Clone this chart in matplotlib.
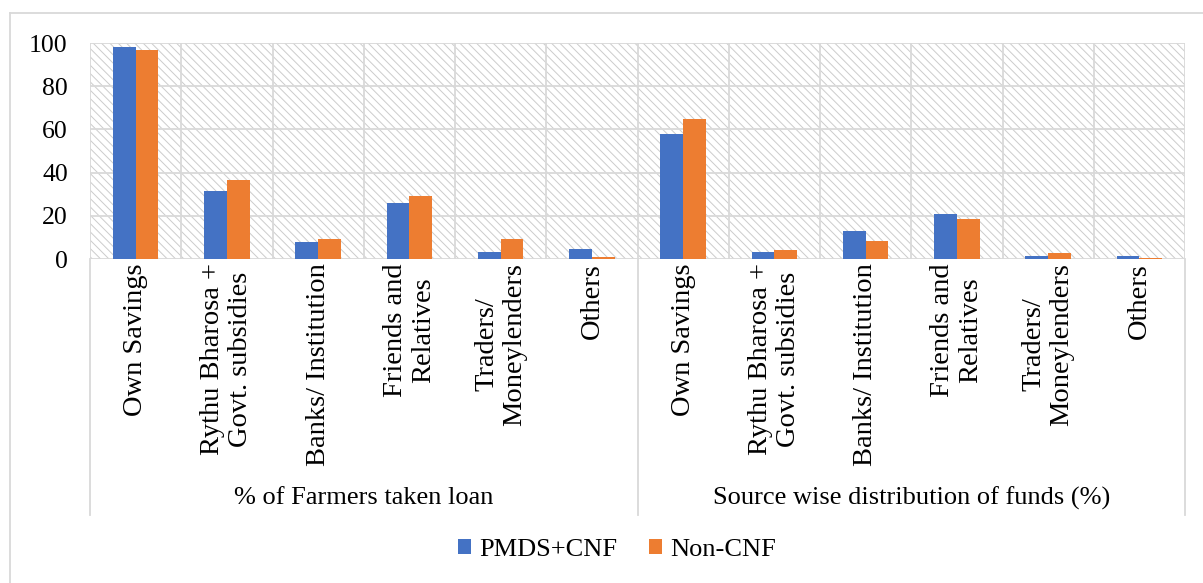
import matplotlib
matplotlib.use("Agg")
import matplotlib.pyplot as plt
from matplotlib.patches import Rectangle
from matplotlib.lines import Line2D

plt.rcParams['font.family'] = ['Liberation Serif', 'DejaVu Serif']
plt.rcParams['hatch.linewidth'] = 0.7

# Data
sources = ["Own Savings", "Rythu Bharosa +\nGovt. subsidies", "Banks/ Institution",
           "Friends and\nRelatives", "Traders/\nMoneylenders", "Others"]
groups = ["% of Farmers taken loan", "Source wise distribution of funds (%)"]
series_names = ["PMDS+CNF", "Non-CNF"]
pmds_loan = [98.0, 31.5, 8.0, 26.0, 3.2, 4.8]
noncnf_loan = [96.8, 36.4, 9.4, 29.2, 9.1, 0.8]
pmds_funds = [57.9, 3.4, 13.0, 21.0, 1.2, 1.5]
noncnf_funds = [64.6, 4.2, 8.5, 18.6, 3.0, 0.3]
yticks = [0, 20, 40, 60, 80, 100]

blue = "#4472C4"
orange = "#ED7D31"
grid = "#d9d9d9"
FS_TICK = 18.5
FS_TEXT = 19
FS_CAT = 20.5

W, H = 1203, 583
fig = plt.figure(figsize=(W / 100, H / 100), dpi=100)
left, right, top, bottom = 90, 1185, 43, 259
ax = fig.add_axes([left / W, (H - bottom) / H, (right - left) / W, (bottom - top) / H])

blue_vals = pmds_loan + pmds_funds
orange_vals = noncnf_loan + noncnf_funds
labels = sources + sources
n = len(labels)
xs = list(range(n))
bw = 0.25

# hatched plot background
ax.add_patch(Rectangle((0, 0), 1, 1, transform=ax.transAxes, fill=False,
                       hatch='\\\\\\\\', edgecolor='#cccccc', lw=0, zorder=0))

for y in yticks:
    ax.axhline(y, color=grid, lw=1.3, zorder=1)
for b in range(n + 1):
    ax.axvline(b - 0.5, color=grid, lw=1.3, zorder=1)

ax.bar([x - bw / 2 for x in xs], blue_vals, width=bw, color=blue, zorder=3,
       label=series_names[0])
ax.bar([x + bw / 2 for x in xs], orange_vals, width=bw, color=orange, zorder=3,
       label=series_names[1])

ax.set_xlim(-0.5, n - 0.5)
ax.set_ylim(0, 100)
ax.set_yticks(yticks)
ax.set_yticklabels([str(v) for v in yticks], fontsize=FS_TICK)
ax.tick_params(axis='y', length=0, pad=16)
ax.set_xticks([])
for s in ax.spines.values():
    s.set_visible(False)

# category labels, rotated
for x, lab in zip(xs, labels):
    ax.annotate(lab, xy=(x, 0), xycoords=('data', 'axes fraction'),
                xytext=(0, -3), textcoords='offset points', rotation=90,
                ha='center', va='top', multialignment='center',
                linespacing=1.15, fontsize=FS_CAT)

# group labels and separators
mid = 637.5
fig.text((left + mid) / 2 / W, 1 - 498 / H, groups[0], ha='center', va='center', fontsize=FS_TEXT)
fig.text((mid + right) / 2 / W, 1 - 498 / H, groups[1], ha='center', va='center', fontsize=FS_TEXT)
for xp in (left, mid, right):
    fig.add_artist(Line2D([xp / W, xp / W], [1 - bottom / H, 1 - 515 / H],
                          color=grid, lw=1.3, transform=fig.transFigure))

# chart frame
fig.add_artist(Line2D([10 / W, 1], [1 - 13 / H, 1 - 13 / H], color=grid, lw=1.3,
                      transform=fig.transFigure))
fig.add_artist(Line2D([10 / W, 10 / W], [1 - 13 / H, 0], color=grid, lw=1.3,
                      transform=fig.transFigure))

fig.legend(loc='center', bbox_to_anchor=(617 / W, 1 - 550 / H), ncol=2, frameon=False,
           fontsize=FS_TEXT, handlelength=0.5, handleheight=0.5, handletextpad=0.3,
           columnspacing=1.2)

fig.savefig("out.png", dpi=100)
